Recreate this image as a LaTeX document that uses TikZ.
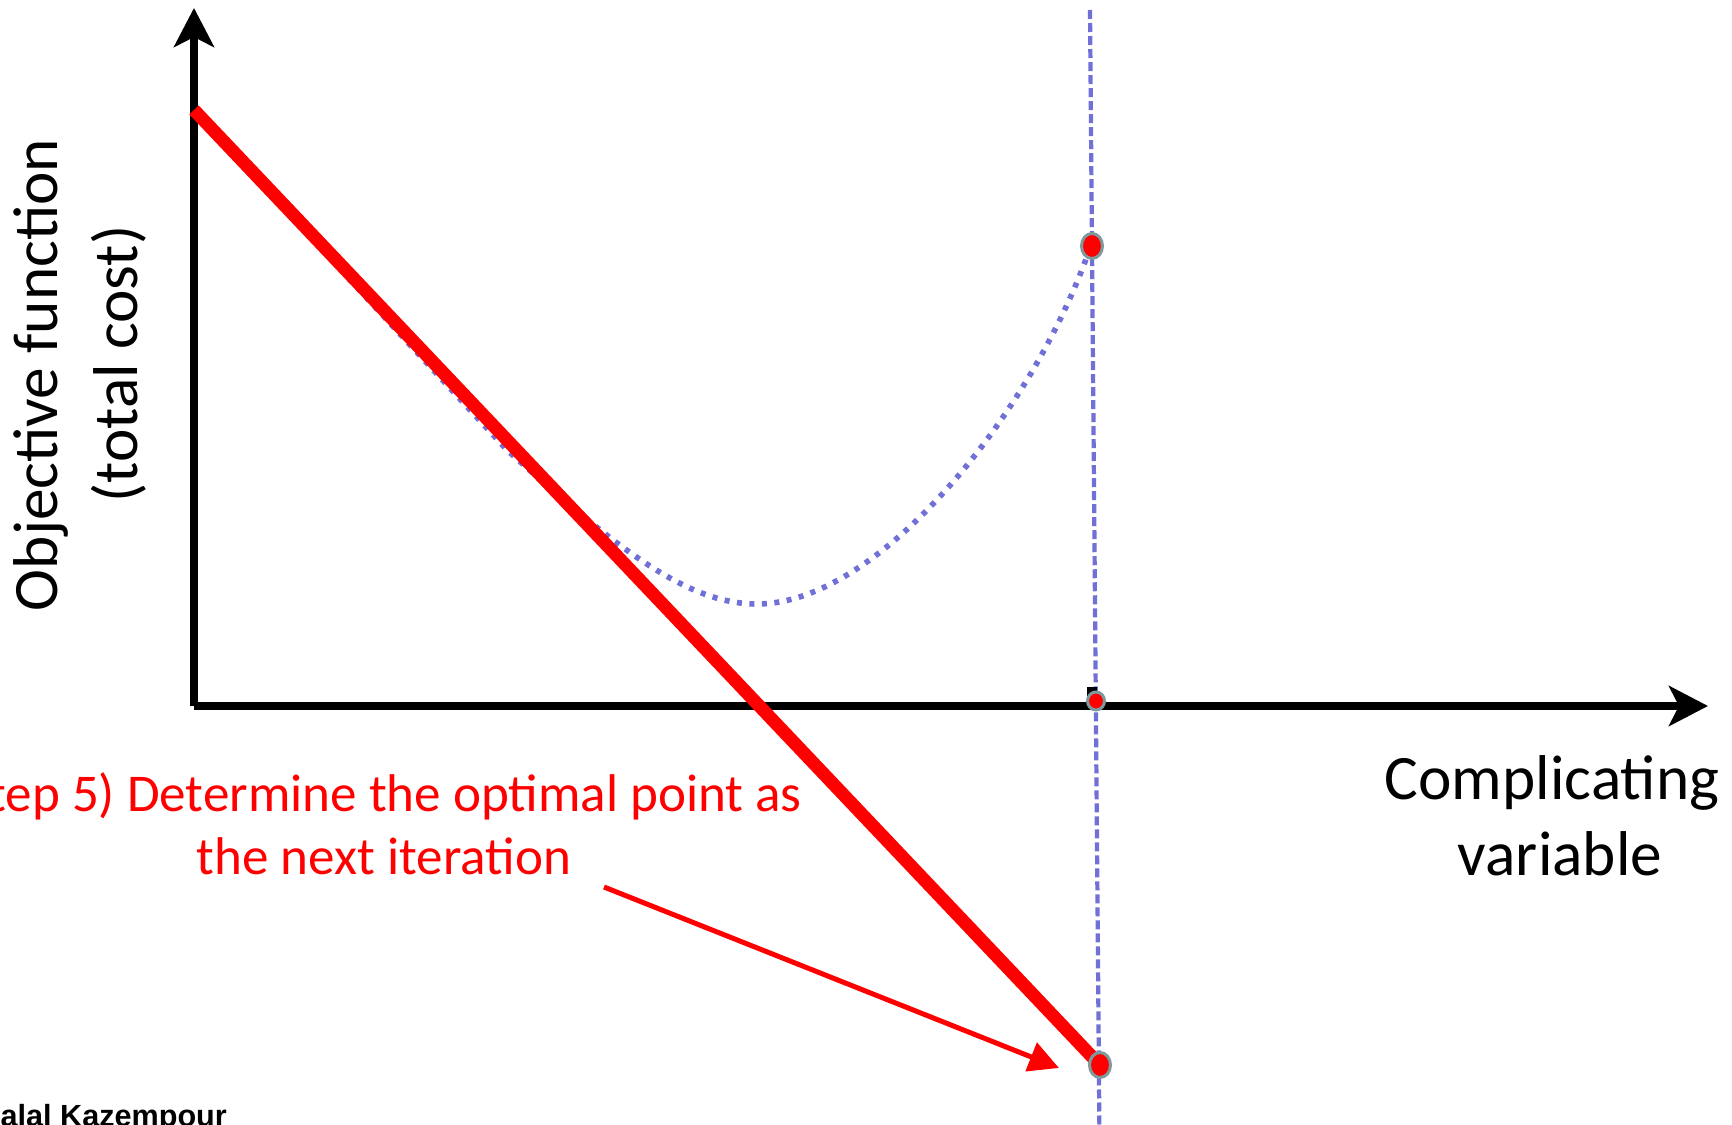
\documentclass[tikz,border=0pt]{standalone}
\usepackage{fontspec}
\setmainfont{Carlito}
\newfontfamily\arialfont{Liberation Sans}
\usetikzlibrary{arrows.meta,shapes.geometric}
\definecolor{curveblue}{HTML}{7070D6}
\definecolor{dotrim}{HTML}{7F9A9C}
\begin{document}
\begin{tikzpicture}[x=0.01cm,y=-0.01cm,
  axisline/.style={line width=2.28pt,-{Stealth[length=0.39cm,width=0.40cm,inset=0.1cm]}},
  guide/.style={curveblue,line width=1.2pt,dash pattern=on 0.09cm off 0.04cm},
  costcurve/.style={curveblue,line width=1.6pt,dash pattern=on 0.05cm off 0.075cm},
  cutline/.style={red,line width=3.7pt},
  pointer/.style={red,line width=1.42pt,-{Triangle[length=0.3cm,width=0.3cm]}},
  ptstyle/.style={ellipse,fill=red,draw=dotrim,line width=0.85pt,minimum width=0.21cm,minimum height=0.25cm,inner sep=0pt},
  ptsmall/.style={ellipse,fill=red,draw=dotrim,line width=0.85pt,minimum width=0.17cm,minimum height=0.18cm,inner sep=0pt},
  redlabel/.style={text=red,align=center,font=\fontsize{15.1}{18}\selectfont,inner sep=0pt},
  blacklabel/.style={text=black,align=center,font=\fontsize{18}{21.6}\selectfont,inner sep=0pt}]
\useasboundingbox (0,0) rectangle (1732,1125);
\clip (0,0) rectangle (1732,1125);
% coordinates
\coordinate (origin) at (194,706);
\coordinate (ytip) at (194,8);
\coordinate (xtip) at (1708,706);
\coordinate (vt) at (1090,10);
\coordinate (vb) at (1099.5,1140);
\coordinate (rl0) at (194,110);
\coordinate (rl1) at (1097,1062);
\coordinate (arrS) at (604,887);
\coordinate (arrE) at (1059,1068);
% guide line
\draw[guide] (vt) -- (vb);
% cost curve
\draw[costcurve] (196,113) -- (507,450) .. controls (617,549) and (687,604) .. (757,604)
  .. controls (880,604) and (1035,410) .. (1091,245);
% axes
\draw[axisline] (origin) -- (ytip);
\draw[axisline] (origin) -- (xtip);
% small black mark
\fill[black] (1087,687) rectangle (1097,700);
% red cut
\draw[cutline] (rl0) -- (rl1);
% points
\node[ptstyle] (ptop) at (1092,246) {};
\node[ptsmall] (pmid) at (1096,701) {};
\node[ptstyle] (pbot) at (1100,1065) {};
% labels
\node[redlabel] (step) at (384,824) {(Step 5) Determine the optimal point as\hspace*{0.18cm}\\the next iteration};
\node[blacklabel] (xlab) at (1552,816) {Complicating\\\hspace*{0.16cm}variable};
\node[blacklabel,rotate=90,font=\fontsize{18}{22.6}\selectfont] (ylab) at (80,375) {Objective function\\\hspace*{0.22cm}(total cost)};
\node[anchor=base west,inner sep=0pt,font=\arialfont\bfseries\fontsize{8.7}{10}\selectfont] (author) at (-17,1127) {Jalal Kazempour};
% pointer
\draw[pointer] (arrS) -- (arrE);
\end{tikzpicture}
\end{document}
